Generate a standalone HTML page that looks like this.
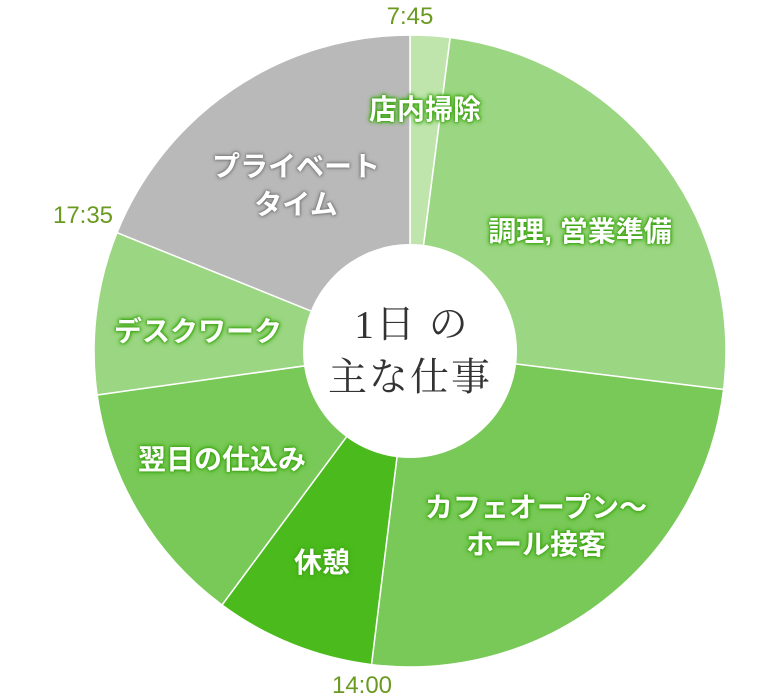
<!DOCTYPE html>
<html><head><meta charset="utf-8"><style>
body{margin:0;background:#fff;width:780px;height:700px;position:relative;overflow:hidden;font-family:"Liberation Sans","Noto Sans CJK JP",sans-serif}
.l{position:absolute;transform:translate(-50%,-50%);white-space:nowrap;color:#fff;font-weight:bold;font-size:28px;line-height:1;text-shadow:0 0 2px #3ea514,0 0 3px #3ea514,0 0 4px #3ea514,0 0 6px #5bbf2e}
.g{text-shadow:0 0 2px #777,0 0 3px #777,0 0 5px #888}
.t{position:absolute;transform:translate(-50%,-50%);color:#6a9a22;font-size:24px;line-height:1}
.c{position:absolute;transform:translate(-50%,-50%);font-family:"Liberation Serif","Noto Serif CJK SC",serif;font-size:39px;color:#333;white-space:nowrap;line-height:1;letter-spacing:2px}
</style></head><body>
<svg width="780" height="700" style="position:absolute;left:0;top:0">
<g stroke="#fff" stroke-width="1.5">
<path d="M410,351 L410,35 A316,316 0 0 1 450.2,37.5 Z" fill="#bfe5ad"/>
<path d="M410,351 L450.2,37.5 A316,316 0 0 1 723.6,389.5 Z" fill="#9bd682"/>
<path d="M410,351 L723.6,389.5 A316,316 0 0 1 371.5,664.6 Z" fill="#78c957"/>
<path d="M410,351 L371.5,664.6 A316,316 0 0 1 222,605 Z" fill="#4aba1c"/>
<path d="M410,351 L222,605 A316,316 0 0 1 97.1,395 Z" fill="#78c957"/>
<path d="M410,351 L97.1,395 A316,316 0 0 1 117,232.6 Z" fill="#9bd682"/>
<path d="M410,351 L117,232.6 A316,316 0 0 1 410,35 Z" fill="#b9b9b9"/>
</g>
<circle cx="410" cy="351" r="107" fill="#fff"/>
</svg>
<div class="c" style="left:412px;top:325px">1日 の</div>
<div class="c" style="left:410px;top:378px">主な仕事</div>
<div class="l" style="left:425px;top:110px">店内掃除</div>
<div class="l" style="left:580px;top:232px">調理, 営業準備</div>
<div class="l" style="left:536px;top:508px">カフェオープン～</div>
<div class="l" style="left:536px;top:545px">ホール接客</div>
<div class="l" style="left:322px;top:563px">休憩</div>
<div class="l" style="left:222px;top:460px">翌日の仕込み</div>
<div class="l" style="left:198px;top:332px">デスクワーク</div>
<div class="l g" style="left:296px;top:167px">プライベート</div>
<div class="l g" style="left:296px;top:205px">タイム</div>
<div class="t" style="left:410px;top:17px">7:45</div>
<div class="t" style="left:83px;top:216px">17:35</div>
<div class="t" style="left:362px;top:686px">14:00</div>
</body></html>
